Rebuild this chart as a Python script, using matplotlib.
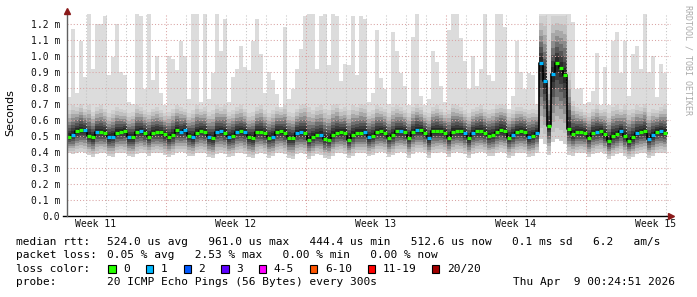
import matplotlib
matplotlib.use("Agg")
import matplotlib.pyplot as plt
from matplotlib.patches import Rectangle
import numpy as np

plt.rcParams['font.family'] = 'DejaVu Sans Mono'

# one column = 4.8 h, 150 columns = 30 days, values in microseconds
median_us = [
    495, 505, 530, 535, 535, 500, 490, 525, 525, 520,
    490, 495, 520, 525, 530, 490, 490, 525, 527, 517,
    495, 520, 525, 522, 510, 490, 505, 535, 525, 535,
    500, 490, 520, 532, 525, 490, 485, 525,
    530, 520, 490, 500, 525, 527, 522, 490, 485, 525,
    525, 515, 488, 495, 525, 527, 520, 485, 485, 520,
    522, 520, 475, 495, 505, 505, 480, 475, 505, 520,
    522, 520, 475, 505, 520, 520, 522,
    490, 500, 525, 527, 520, 485, 505, 527, 530, 525,
    488, 525, 535, 535, 520, 485, 530, 530, 530, 520,
    488, 525, 530, 530, 515, 485, 520, 530, 530, 520,
    500, 505, 525, 535, 530, 488, 505, 525,
    530, 525, 490, 500, 520, 955, 845, 560, 885, 955,
    925, 880, 540, 510, 525, 525, 520, 485, 520, 525,
    530, 510, 465, 500, 510, 530, 500, 465, 490, 515,
    525, 530, 480, 505, 525, 527, 520,
]
peak_us = [
    740, 1170, 770, 1090, 870, 1270, 920, 1200, 1200, 1250,
    880, 990, 1200, 900, 880, 710, 700, 1260, 1250, 790,
    1270, 850, 1000, 770, 690, 1000, 980, 910, 1090, 1000,
    730, 1270, 1260, 710, 1270, 730, 890, 1270,
    1030, 1230, 710, 870, 920, 1060, 930, 910, 1090, 1230,
    1010, 770, 900, 850, 760, 680, 1180, 730, 790, 920,
    1040, 1250, 1260, 1260, 920, 1250, 1260, 940, 1260, 1250,
    840, 950, 940, 1250, 880, 1250, 1230,
    710, 770, 1160, 860, 790, 700, 1150, 1030, 890, 810,
    690, 1120, 1260, 750, 690, 730, 1030, 960, 810, 710,
    1160, 1260, 1260, 1110, 970, 790, 1000, 810, 920, 1260,
    880, 840, 1260, 1260, 1180, 670, 750, 1090,
    900, 790, 890, 880, 700, 1300, 1300, 1300, 1300, 1300,
    1300, 1300, 1300, 1210, 790, 800, 700, 710, 780, 1020,
    690, 930, 690, 1090, 1150, 890, 1090, 750, 1010, 1060,
    920, 1260, 900, 1000, 740, 950, 890,
]
top_us = [
    660, 690, 680, 700, 670, 690, 650, 680, 690, 670,
    640, 660, 680, 670, 660, 640, 650, 690, 680, 660,
    650, 670, 680, 660, 640, 650, 670, 690, 680, 670,
    640, 660, 690, 670, 680, 650, 660, 690,
    680, 690, 650, 660, 680, 690, 670, 640, 650, 680,
    690, 660, 640, 660, 680, 670, 690, 650, 640, 670,
    690, 700, 680, 660, 680, 690, 670, 660, 690, 700,
    670, 680, 660, 690, 680, 700, 690,
    650, 660, 690, 680, 670, 640, 680, 690, 680, 660,
    640, 680, 700, 680, 650, 640, 680, 690, 670, 650,
    660, 700, 690, 680, 660, 640, 670, 680, 690, 670,
    660, 670, 690, 700, 690, 640, 660, 680,
    680, 670, 660, 670, 660, 1250, 1250, 850, 1250, 1250,
    1250, 1250, 900, 720, 680, 670, 650, 640, 670, 690,
    660, 670, 640, 680, 690, 670, 690, 660, 670, 690,
    680, 700, 650, 670, 660, 680, 690,
]
low_us = [
    390, 385, 395, 400, 395, 380, 365, 385, 395, 390,
    370, 365, 390, 395, 390, 370, 365, 385, 395, 390,
    375, 390, 395, 390, 380, 365, 380, 395, 400, 395,
    375, 370, 390, 395, 390, 365, 360, 385,
    390, 385, 365, 370, 390, 395, 385, 365, 360, 385,
    395, 385, 360, 370, 390, 395, 385, 360, 355, 385,
    390, 385, 355, 370, 385, 380, 360, 355, 375, 390,
    395, 385, 360, 375, 390, 395, 390,
    370, 380, 395, 400, 390, 365, 380, 395, 400, 395,
    360, 385, 400, 400, 390, 360, 390, 395, 400, 390,
    365, 390, 400, 395, 385, 360, 385, 395, 400, 390,
    370, 375, 390, 400, 395, 360, 375, 390,
    395, 390, 365, 370, 390, 480, 450, 380, 460, 480,
    470, 450, 380, 375, 390, 395, 390, 365, 385, 395,
    400, 385, 355, 370, 385, 395, 375, 355, 365, 385,
    390, 395, 360, 370, 390, 395, 390,
]
# columns where one of 20 pings was lost
one_loss_cols = [1, 4, 7, 10, 11, 15, 18, 28, 29, 31, 35, 37, 38, 40, 42, 44,
                 51, 57, 58, 63, 74, 75, 83, 87, 90, 99, 101, 111, 115, 117,
                 118, 119, 121, 132, 138, 142, 145, 146, 148]

y_ticks = [0.0, 0.1, 0.2, 0.3, 0.4, 0.5, 0.6, 0.7, 0.8, 0.9, 1.0, 1.1, 1.2]
week_labels = ["Week 11", "Week 12", "Week 13", "Week 14", "Week 15"]
loss_labels = ["0", "1", "2", "3", "4-5", "6-10", "11-19", "20/20"]
loss_colors = ["#26ff00", "#00b8ff", "#0059ff", "#5e00ff", "#ff00ff",
               "#ff5500", "#ff0000", "#a10000"]

W, H = 697, 297
col_days = 0.2
first_day_line = 0.935
first_week_line = 4.935

fig = plt.figure(figsize=(W / 100, H / 100), dpi=100)
ax = fig.add_axes([67 / W, 1 - 215.6 / H, 604 / W, (215.6 - 14) / H])
ax.set_xlim(0, 30.2)
ax.set_ylim(0, 1.262)

n = len(median_us)
med = np.array(median_us) / 1000
peak = np.array(peak_us) / 1000
top = np.minimum(np.array(top_us) / 1000, peak)
low = np.array(low_us) / 1000
edges = np.arange(n + 1) * col_days


def stepv(a):
    return np.append(a, a[-1])


# smoke, lightest outer band first
shades = ['#dcdcdc', '#d0d0d0', '#c0c0c0', '#a8a8a8', '#8c8c8c',
          '#707070', '#555555', '#3c3c3c', '#282828']
reach = [1, 1, 0.85, 0.7, 0.57, 0.45, 0.33, 0.22, 0.12]
for k, (c, f) in enumerate(zip(shades, reach)):
    hi = med + ((peak if k == 0 else top) - med) * f
    lo = med - (med - low) * f
    ax.fill_between(edges, stepv(lo), stepv(hi), step='post', color=c,
                    lw=0, zorder=1)

# grid
dots = (0, (1, 2))
majors = first_week_line + 7 * np.arange(4)
for d in first_day_line + np.arange(30):
    is_major = np.min(np.abs(majors - d)) < 0.01
    ax.axvline(d, color='#d9a3a3' if is_major else '#c4c4c4', lw=0.75,
               ls=dots, zorder=2)
for v in y_ticks[1:]:
    ax.axhline(v, color='#d9a3a3', lw=0.75, ls=dots, zorder=2)

# median line coloured by loss
ax.step(edges, stepv(med), where='post', color='black', lw=1.2, zorder=3)
seg_colors = [loss_colors[1] if i in one_loss_cols else loss_colors[0]
              for i in range(n)]
ax.hlines(med, edges[:-1], edges[1:], colors=seg_colors, lw=2.3, zorder=4)

# axes
for s in ax.spines.values():
    s.set_visible(False)
ax.plot([-0.2, 30.15], [0, 0], color='black', lw=1, clip_on=False, zorder=5)
ax.plot([0, 0], [0, 1.275], color='#606060', lw=1, clip_on=False, zorder=5)
ax.plot([30.2], [0], marker='>', color='#8b1a1a', ms=4, clip_on=False, zorder=6)
ax.plot([0], [1.283], marker='^', color='#8b1a1a', ms=4, clip_on=False, zorder=6)

ax.set_yticks(y_ticks)
ax.set_yticklabels(["0.0"] + [f"{v:.1f} m" for v in y_ticks[1:]])
ax.set_xticks(first_week_line - 3.5 + 7 * np.arange(len(week_labels)))
ax.set_xticklabels(week_labels)
ax.tick_params(axis='both', length=0, labelsize=7, colors='#111111')
ax.tick_params(axis='y', pad=5)
ax.tick_params(axis='x', pad=2.5)


def ftext(x, y, s, **kw):
    fig.text(x / W, 1 - y / H, s, va='center', **kw)


ftext(10, 113, "Seconds", rotation=90, ha='center', fontsize=8,
      family='DejaVu Sans')
ftext(688, 60, "RRDTOOL / TOBI OETIKER", rotation=270, ha='center',
      fontsize=6, color='#aaaaaa')

fs = 8
ftext(16, 241.7, "median rtt:", fontsize=fs)
ftext(107.3, 241.7, "524.0 us avg   961.0 us max   444.4 us min   "
      "512.6 us now   0.1 ms sd   6.2   am/s", fontsize=fs)
ftext(16, 255.3, "packet loss:", fontsize=fs)
ftext(107.3, 255.3, "0.05 % avg   2.53 % max   0.00 % min   0.00 % now",
      fontsize=fs)
ftext(16, 269, "loss color:", fontsize=fs)
bx = 108.3
for lab, col in zip(loss_labels, loss_colors):
    fig.patches.append(Rectangle((bx / W, 1 - 273 / H), 7.3 / W, 8 / H,
                                 transform=fig.transFigure, facecolor=col,
                                 edgecolor='black', lw=0.8))
    ftext(bx + 14.7, 269, lab, fontsize=fs)
    bx += (len(lab) + 4.65) * 6.67
ftext(16, 282.3, "probe:", fontsize=fs)
ftext(107.3, 282.3, "20 ICMP Echo Pings (56 Bytes) every 300s", fontsize=fs)
ftext(512.7, 282.3, "Thu Apr  9 00:24:51 2026", fontsize=fs)

fig.savefig("out.png", dpi=100)
